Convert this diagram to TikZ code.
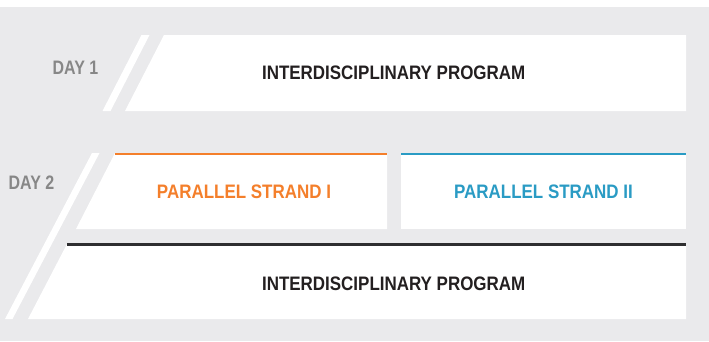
\documentclass[tikz,border=0pt]{standalone}
\usepackage{fontspec}
\newfontfamily\condfont[FakeStretch=0.87]{Liberation Sans}
\newfontfamily\dayfont[FakeStretch=0.82]{Liberation Sans}
\definecolor{bggray}{HTML}{EAEAEC}
\definecolor{daygray}{HTML}{878787}
\definecolor{strandorange}{HTML}{F47F2B}
\definecolor{strandblue}{HTML}{2A9BC4}
\definecolor{darktext}{HTML}{231F20}
\definecolor{darkline}{HTML}{2E2E30}
\begin{document}
\begin{tikzpicture}[x=1pt,y=-1pt,
  lbl/.style={inner sep=0pt, anchor=base, font=\condfont\bfseries\fontsize{19.5}{20}\selectfont},
  daylbl/.style={inner sep=0pt, anchor=base, text=daygray, font=\dayfont\bfseries\fontsize{19.5}{20}\selectfont},
  panel/.style={fill=white},
  topline/.style={line width=2.4pt}]
\useasboundingbox (0,0) rectangle (709,341);
\fill[bggray] (0,7) rectangle (709,341);
% Day 1
\fill[panel] (141.5,35) -- (149.5,35) -- (110.5,111) -- (102.5,111) -- cycle;
\fill[panel] (164,35) -- (686,35) -- (686,111) -- (125,111) -- cycle;
\node[daylbl] (day1) at (75.5,74) {DAY 1};
\node[lbl, text=darktext] (prog1) at (393.7,79.5) {INTERDISCIPLINARY PROGRAM};
% Day 2
\fill[panel] (92,153) -- (99.5,153) -- (12.5,319) -- (5,319) -- cycle;
\fill[panel] (115,153) -- (387,153) -- (387,229) -- (76,229) -- cycle;
\draw[topline, strandorange] (115,154.2) -- (387,154.2);
\fill[panel] (401,153) rectangle (686,229);
\draw[topline, strandblue] (401,154.2) -- (686,154.2);
\fill[panel] (67,244) -- (686,244) -- (686,319) -- (28,319) -- cycle;
\draw[topline, darkline] (67,244.5) -- (686,244.5);
\node[daylbl] (day2) at (31.5,189) {DAY 2};
\node[lbl, text=strandorange] (strand1) at (244,198) {PARALLEL STRAND I};
\node[lbl, text=strandblue] (strand2) at (543.5,198) {PARALLEL STRAND II};
\node[lbl, text=darktext] (prog2) at (393.7,290) {INTERDISCIPLINARY PROGRAM};
\end{tikzpicture}
\end{document}
